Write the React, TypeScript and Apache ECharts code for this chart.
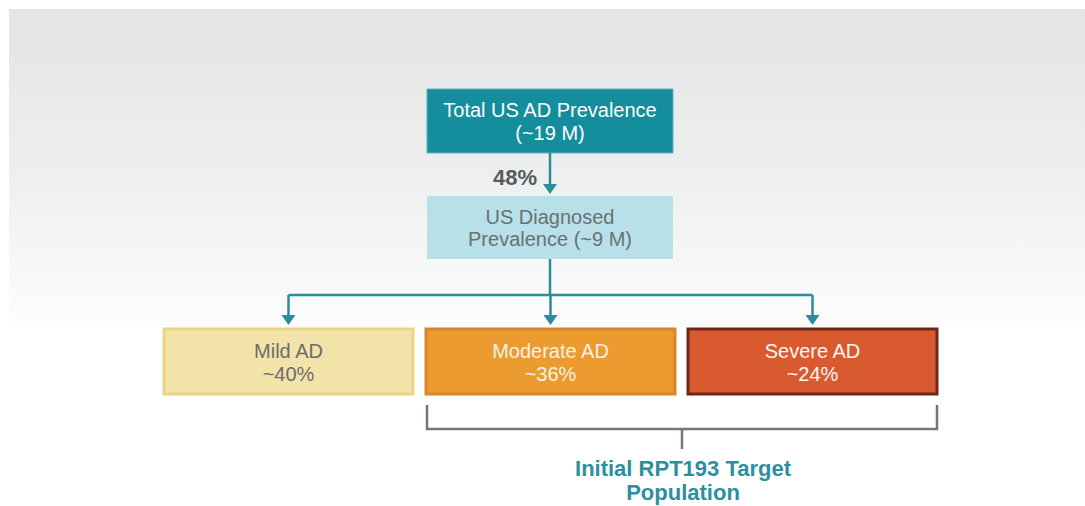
import React, { useEffect, useRef } from "react";
import * as echarts from "echarts";

// ---- data ----
const totalLabel = ["Total US AD Prevalence", "(~19 M)"];
const diagnosedLabel = ["US Diagnosed", "Prevalence (~9 M)"];
const diagnosisRate = 48; // %
const severityCategories = ["Mild AD", "Moderate AD", "Severe AD"];
const severityShares = [40, 36, 24]; // %
const targetLabel = ["Initial RPT193 Target", "Population"];

// ---- styles ----
const FONT = '"Liberation Sans", Arial, Helvetica, sans-serif';
const TEAL = "#2a8c9d";
const sevStyles = [
  { fill: "#f2e3a9", stroke: "#ecd486", text: "#6d6d6d", lw: 3 },
  { fill: "#eb9b30", stroke: "#d6872a", text: "#fdf1e2", lw: 3 },
  { fill: "#da5a30", stroke: "#72261a", text: "#fff6f2", lw: 3 },
];
const sevBoxes = [
  { x: 164, w: 249 },
  { x: 426, w: 249 },
  { x: 688, w: 249 },
];

function arrowHead(x: number, tipY: number) {
  return {
    type: "polygon",
    shape: { points: [[x - 7, tipY - 10], [x + 7, tipY - 10], [x, tipY]] },
    style: { fill: TEAL },
  };
}

export default function App() {
  const ref = useRef<HTMLDivElement>(null);
  useEffect(() => {
    if (!ref.current) return;
    const chart = echarts.init(ref.current, null, { renderer: "svg" });
    const els: any[] = [];
    // background panel
    els.push({
      type: "rect",
      shape: { x: 9, y: 9, width: 1076, height: 318 },
      style: {
        fill: new echarts.graphic.LinearGradient(0, 0, 0, 1, [
          { offset: 0, color: "#e3e4e4" },
          { offset: 0.5, color: "#edeeee" },
          { offset: 1, color: "#fdfdfd" },
        ]),
      },
    });
    // top box
    els.push({
      type: "rect",
      shape: { x: 427, y: 89, width: 246, height: 64 },
      style: { fill: "#148d9d", stroke: "#5fb3c0", lineWidth: 1 },
    });
    els.push({
      type: "text",
      x: 550,
      y: 121,
      style: {
        text: totalLabel.join("\n"),
        fill: "#ffffff",
        font: `20px ${FONT}`,
        lineHeight: 23,
        align: "center",
        verticalAlign: "middle",
      },
    });
    // arrow top -> diagnosed
    els.push({ type: "line", shape: { x1: 550, y1: 153, x2: 550, y2: 185 }, style: { stroke: TEAL, lineWidth: 2.5 } });
    els.push(arrowHead(550, 194));
    els.push({
      type: "text",
      x: 537,
      y: 177,
      style: {
        text: `${diagnosisRate}%`,
        fill: "#565b5f",
        font: `bold 22px ${FONT}`,
        align: "right",
        verticalAlign: "middle",
      },
    });
    // diagnosed box
    els.push({
      type: "rect",
      shape: { x: 427, y: 196, width: 246, height: 63 },
      style: { fill: "#b8e0e8" },
    });
    els.push({
      type: "text",
      x: 550,
      y: 228,
      style: {
        text: diagnosedLabel.join("\n"),
        fill: "#6b7073",
        font: `20px ${FONT}`,
        lineHeight: 22,
        align: "center",
        verticalAlign: "middle",
      },
    });
    // branches
    const centers = sevBoxes.map((b) => b.x + b.w / 2);
    els.push({ type: "line", shape: { x1: 550, y1: 259, x2: 550, y2: 295 }, style: { stroke: TEAL, lineWidth: 2.5 } });
    els.push({
      type: "line",
      shape: { x1: centers[0], y1: 295, x2: centers[2], y2: 295 },
      style: { stroke: TEAL, lineWidth: 2.5 },
    });
    centers.forEach((cx) => {
      els.push({ type: "line", shape: { x1: cx, y1: 295, x2: cx, y2: 316 }, style: { stroke: TEAL, lineWidth: 2.5 } });
      els.push(arrowHead(cx, 325));
    });
    // severity boxes
    severityCategories.forEach((cat, i) => {
      const b = sevBoxes[i];
      const s = sevStyles[i];
      els.push({
        type: "rect",
        shape: { x: b.x, y: 329, width: b.w, height: 65 },
        style: { fill: s.fill, stroke: s.stroke, lineWidth: s.lw },
      });
      els.push({
        type: "text",
        x: b.x + b.w / 2,
        y: 362,
        style: {
          text: `${cat}\n~${severityShares[i]}%`,
          fill: s.text,
          font: `20px ${FONT}`,
          lineHeight: 23,
          align: "center",
          verticalAlign: "middle",
        },
      });
    });
    // bracket
    const bL = sevBoxes[1].x + 1;
    const bR = sevBoxes[2].x + sevBoxes[2].w;
    const bMid = (bL + bR) / 2;
    els.push({
      type: "polyline",
      shape: { points: [[bL, 405], [bL, 429], [bR, 429], [bR, 405]] },
      style: { stroke: "#6f7780", lineWidth: 2.5, fill: null },
    });
    els.push({ type: "line", shape: { x1: bMid, y1: 429, x2: bMid, y2: 449 }, style: { stroke: "#6f7780", lineWidth: 2.5 } });
    els.push({
      type: "text",
      x: bMid + 1,
      y: 480,
      style: {
        text: targetLabel.join("\n"),
        fill: "#2b8fa0",
        font: `bold 22px ${FONT}`,
        lineHeight: 24,
        align: "center",
        verticalAlign: "middle",
      },
    });

    chart.setOption({
      animation: false,
      backgroundColor: "#ffffff",
      graphic: { elements: els },
    });
    return () => chart.dispose();
  }, []);
  return (
    <div
      ref={ref}
      style={{ position: "absolute", left: 0, top: 0, width: 1085, height: 506 }}
    />
  );
}
